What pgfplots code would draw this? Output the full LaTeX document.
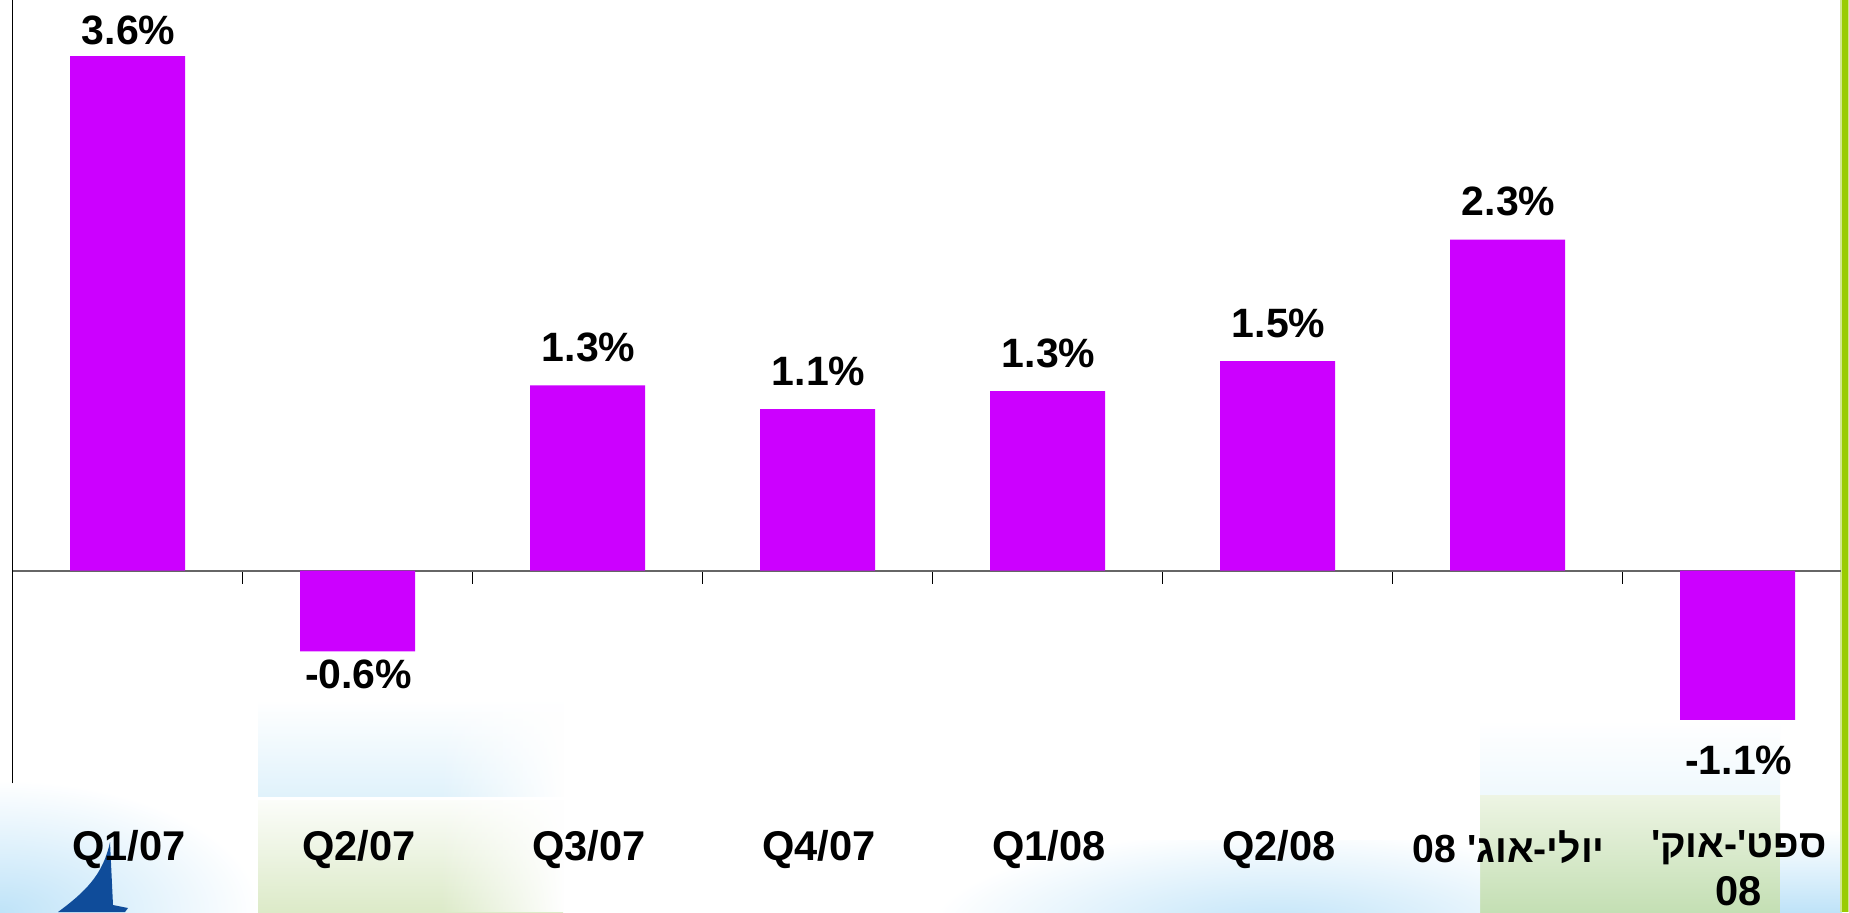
\documentclass[border=0pt]{standalone}
\usepackage{pgfplots}
\pgfplotsset{compat=1.18}
\usetikzlibrary{fadings}
\usepackage{fontspec}
\setmainfont{Liberation Sans}
\newfontfamily\hebfont[Script=Hebrew]{Liberation Sans}
\TeXXeTstate=1
\definecolor{barpurple}{HTML}{CC00FF}
\definecolor{framegreen}{HTML}{99CC00}
\definecolor{sail}{HTML}{0F4C9A}
\definecolor{skyblue}{HTML}{BFE3F8}
\definecolor{paleblue}{HTML}{E0F2FB}
\definecolor{palegreen}{HTML}{DCEAC8}
\definecolor{midgreen}{HTML}{C4DFB4}
\newcommand{\heb}{\fontsize{19.6}{24}\selectfont\hebfont}
\begin{document}
\begin{tikzpicture}
\path[use as bounding box] (0pt,0pt) rectangle (924.5pt,-456pt);
\begin{scope}[x=0.5pt,y=-0.5pt]
\clip (0,0) rectangle (1849,912);
\fill[white] (0,0) rectangle (1849,912);
% soft background decoration
\shade[inner color=skyblue,outer color=white] (-260,780) rectangle (260,1044);
\shade[top color=white,bottom color=paleblue] (258,700) rectangle (563,796);
\shade[top color=white!90!palegreen,bottom color=palegreen] (258,800) rectangle (563,912);
\fill[white,path fading=west] (440,700) rectangle (564,912);
\shade[top color=white,bottom color=white!50!paleblue] (1480,720) rectangle (1780,795);
\shade[top color=palegreen!50!white,bottom color=midgreen] (1480,795) rectangle (1780,912);
\begin{scope}
\clip (880,840) rectangle (1480,912);
\shade[inner color=skyblue,outer color=white] (930,830) rectangle (1630,1030);
\end{scope}
\shade[top color=white,bottom color=skyblue] (1780,830) rectangle (1842,912);
% sail
\fill[sail] (110,842) -- (113,905) -- (128,908) -- (125,912) -- (58,912)
  .. controls (85,892) and (103,875) .. cycle;
% right frame
\fill[framegreen!45!white] (1840,0) rectangle (1849,912);
\fill[framegreen] (1842,0) rectangle (1848,912);
\end{scope}
\begin{axis}[
  at={(63.75pt,-285.25pt)}, anchor=origin,
  x=115pt, y=71.45pt,
  xmin=-0.5, xmax=7.45, ymin=-1.49, ymax=3.99,
  axis x line=middle, axis y line=left,
  axis line style={-, black, line width=0.7pt},
  x axis line style={black!60, line width=1pt},
  hide obscured x ticks=false,
  clip=false,
  ymajorticks=false,
  xtick={0,1,2,3,4,5,6,7},
  xticklabels={Q1/07,Q2/07,Q3/07,Q4/07,Q1/08,Q2/08,
    {{\heb\beginR יולי-אוג' \beginL 08\endL\endR}},
    {{\heb\beginR ספט'-אוק'\endR}\\08}},
  major x tick style={draw=none},
  minor xtick={0.5,1.5,2.5,3.5,4.5,5.5,6.5},
  minor tick length=6.5pt,
  xtick align=outside,
  minor x tick style={black, line width=0.7pt},
  xticklabel style={font=\bfseries\fontsize{20.8}{24}\selectfont, anchor=north, align=center, yshift=-125.4pt, xshift=0.6pt, inner sep=0pt},
  every node near coord/.append style={font=\bfseries\fontsize{20.5}{25}\selectfont, anchor=center, text=black, xshift=0.6pt},
]
\addplot[ybar, bar width=57.5pt, fill=barpurple, draw=none, bar shift=0pt]
  coordinates {(0,3.6) (1,-0.565) (2,1.295) (3,1.13) (4,1.255) (5,1.465) (6,2.315) (7,-1.045)};
\addplot[draw=none, mark=none, only marks, point meta=explicit symbolic, nodes near coords, nodes near coords align=center]
  coordinates {(0,3.78) [3.6\%] (1,-0.73) [-0.6\%] (2,1.56) [1.3\%] (3,1.39) [1.1\%]
    (4,1.52) [1.3\%] (5,1.73) [1.5\%] (6,2.58) [2.3\%] (7,-1.33) [-1.1\%]};
\end{axis}
\end{tikzpicture}
\end{document}
